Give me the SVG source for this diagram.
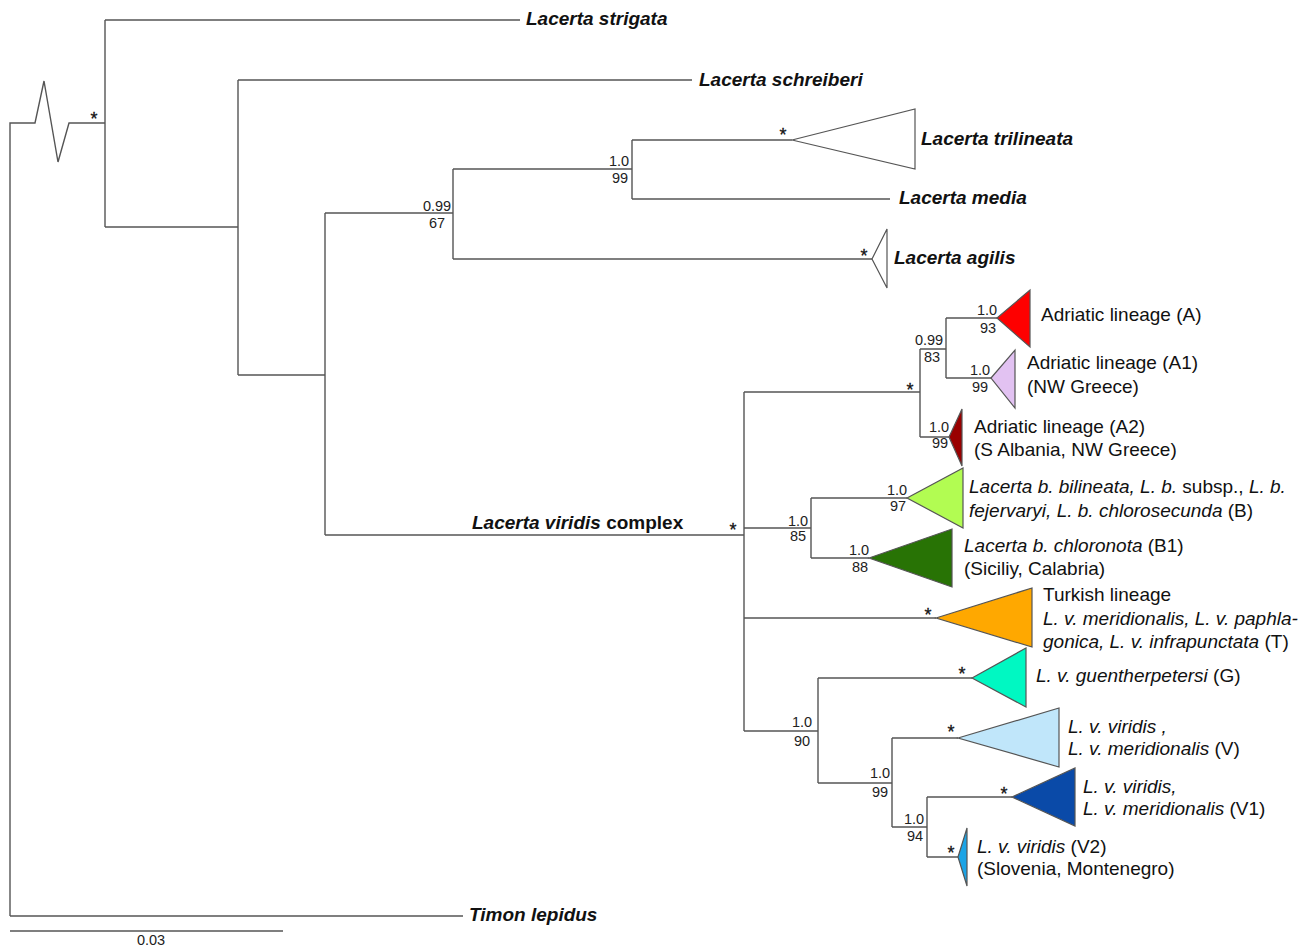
<svg xmlns="http://www.w3.org/2000/svg" width="1314" height="948" viewBox="0 0 1314 948">
<style>
.br{fill:none;stroke:#555;stroke-width:1.4;stroke-linejoin:miter}
.tri{stroke:#555;stroke-width:1.2}
.sp{font-family:"Liberation Sans",Arial,sans-serif;font-size:19px;font-weight:bold;font-style:italic;fill:#111}
.lb{font-family:"Liberation Sans",Arial,sans-serif;font-size:19px;fill:#111}
.it{font-style:italic}
.sv{font-family:"Liberation Sans",Arial,sans-serif;font-size:14.5px;fill:#222;text-anchor:middle}
.ast{font-family:"Liberation Sans",Arial,sans-serif;font-size:18px;fill:#111;stroke:#111;stroke-width:0.3;text-anchor:middle}
</style>
<rect width="1314" height="948" fill="#fff"/>
<g id="connectors">
<path class="br" d="M10,916 V123 H35 L44,81 L58,162 L69,123 H105"/>
<path class="br" d="M105,20 V227 M105,20 H520 M105,227 H238"/>
<path class="br" d="M238,80 V375 M238,80 H692 M238,375 H325"/>
<path class="br" d="M325,213 V535 M325,213 H453 M325,535 H744"/>
<path class="br" d="M453,169 V259 M453,169 H632 M453,259 H872"/>
<path class="br" d="M632,140 V199 M632,140 H792 M632,199 H890"/>
<path class="br" d="M744,392 V731 M744,392 H920 M744,528 H811 M744,618 H936 M744,731 H818"/>
<path class="br" d="M920,349 V437 M920,349 H946 M920,437 H949"/>
<path class="br" d="M946,318 V378 M946,318 H997 M946,378 H991"/>
<path class="br" d="M811,498 V558 M811,498 H907 M811,558 H869"/>
<path class="br" d="M818,678 V783 M818,678 H972 M818,783 H892"/>
<path class="br" d="M892,738 V827 M892,738 H958 M892,827 H927"/>
<path class="br" d="M927,797 V857 M927,797 H1012 M927,857 H958"/>
<path class="br" d="M10,916 H463"/>
</g>
<g id="support">
<text class="ast" x="94" y="124.5">*</text>
<text class="sv" x="437" y="211">0.99</text><text class="sv" x="437" y="228">67</text>
<text class="sv" x="619" y="166">1.0</text><text class="sv" x="620" y="183">99</text>
<text class="ast" x="783" y="140.5">*</text>
<text class="ast" x="864" y="261.5">*</text>
<text class="ast" x="910" y="395.5">*</text>
<text class="sv" x="929" y="345">0.99</text><text class="sv" x="932" y="362">83</text>
<text class="sv" x="987" y="315">1.0</text><text class="sv" x="988" y="333">93</text>
<text class="sv" x="980" y="375">1.0</text><text class="sv" x="980" y="392">99</text>
<text class="sv" x="939" y="432">1.0</text><text class="sv" x="940" y="448">99</text>
<text class="ast" x="733" y="535.5">*</text>
<text class="sv" x="798" y="526">1.0</text><text class="sv" x="798" y="541">85</text>
<text class="sv" x="897" y="495">1.0</text><text class="sv" x="898" y="511">97</text>
<text class="sv" x="859" y="555">1.0</text><text class="sv" x="860" y="572">88</text>
<text class="ast" x="928" y="620.5">*</text>
<text class="ast" x="962" y="679.5">*</text>
<text class="sv" x="802" y="727">1.0</text><text class="sv" x="802" y="746">90</text>
<text class="ast" x="951" y="737.5">*</text>
<text class="sv" x="880" y="778">1.0</text><text class="sv" x="880" y="797">99</text>
<text class="ast" x="1004" y="799.5">*</text>
<text class="sv" x="914" y="824">1.0</text><text class="sv" x="915" y="841">94</text>
<text class="ast" x="951" y="858.5">*</text>
</g>
<g id="strigata"><text class="sp" x="526" y="25">Lacerta strigata</text></g>
<g id="schreiberi"><text class="sp" x="699" y="86">Lacerta schreiberi</text></g>
<g id="trilineata"><polygon class="tri" points="792,140 915,109 915,169" fill="#fff"/><text class="sp" x="921" y="145">Lacerta trilineata</text></g>
<g id="media"><text class="sp" x="899" y="204">Lacerta media</text></g>
<g id="agilis"><polygon class="tri" points="872,259 887,229 887,288" fill="#fff"/><text class="sp" x="894" y="264">Lacerta agilis</text></g>
<g id="viridis-complex"><text class="sp" x="472" y="529">Lacerta viridis <tspan font-style="normal">complex</tspan></text></g>
<g id="A"><polygon class="tri" points="997,318 1030,290 1030,347" fill="#fe0000"/><text class="lb" x="1041" y="321">Adriatic lineage (A)</text></g>
<g id="A1"><polygon class="tri" points="991,378 1015,350 1015,408" fill="#e2c2f2"/><text class="lb" x="1027" y="369">Adriatic lineage (A1)</text><text class="lb" x="1027" y="393">(NW Greece)</text></g>
<g id="A2"><polygon class="tri" points="949,437 962,409 962,466" fill="#990000"/><text class="lb" x="974" y="433">Adriatic lineage (A2)</text><text class="lb" x="974" y="456">(S Albania, NW Greece)</text></g>
<g id="B"><polygon class="tri" points="907,498 963,468 963,528" fill="#b2fc52"/><text class="lb" x="969" y="493"><tspan class="it">Lacerta b. bilineata, L. b.</tspan> subsp., <tspan class="it">L. b.</tspan></text><text class="lb" x="969" y="517"><tspan class="it">fejervaryi, L. b. chlorosecunda</tspan> (B)</text></g>
<g id="B1"><polygon class="tri" points="869,558 952,529 952,587" fill="#287305"/><text class="lb" x="964" y="552"><tspan class="it">Lacerta b. chloronota</tspan> (B1)</text><text class="lb" x="964" y="575">(Siciliy, Calabria)</text></g>
<g id="T"><polygon class="tri" points="936,618 1032,588 1032,647" fill="#ffa800"/><text class="lb" x="1043" y="601">Turkish lineage</text><text class="lb it" x="1043" y="625">L. v. meridionalis, L. v. paphla-</text><text class="lb" x="1043" y="648"><tspan class="it">gonica, L. v. infrapunctata</tspan> (T)</text></g>
<g id="G"><polygon class="tri" points="972,678 1026,648 1026,707" fill="#00f8c2"/><text class="lb" x="1036" y="682"><tspan class="it">L. v. guentherpetersi</tspan> (G)</text></g>
<g id="V"><polygon class="tri" points="958,738 1059,708 1059,767" fill="#c0e6fa"/><text class="lb it" x="1068" y="733">L. v. viridis ,</text><text class="lb" x="1068" y="755"><tspan class="it">L. v. meridionalis</tspan> (V)</text></g>
<g id="V1"><polygon class="tri" points="1012,797 1075,768 1075,826" fill="#0a4aa8"/><text class="lb it" x="1083" y="793">L. v. viridis,</text><text class="lb" x="1083" y="815"><tspan class="it">L. v. meridionalis</tspan> (V1)</text></g>
<g id="V2"><polygon class="tri" points="958,857 967,828 967,886" fill="#1ca4e6"/><text class="lb" x="977" y="853"><tspan class="it">L. v. viridis</tspan> (V2)</text><text class="lb" x="977" y="875">(Slovenia, Montenegro)</text></g>
<g id="timon"><text class="sp" x="469" y="921">Timon lepidus</text></g>
<g id="scale"><path class="br" d="M10,931 H283"/><text class="sv" x="151" y="945">0.03</text></g>
</svg>
